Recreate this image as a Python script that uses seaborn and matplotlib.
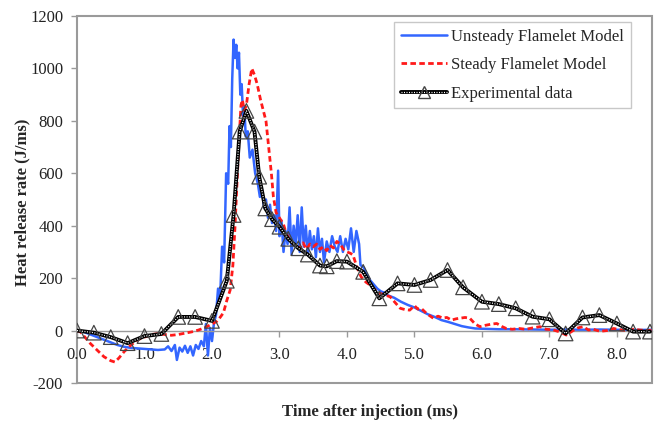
import numpy as np
import pandas as pd
import seaborn as sns
import matplotlib
matplotlib.use("Agg")
import matplotlib.pyplot as plt
from matplotlib.lines import Line2D

# Unsteady flamelet model (blue)
unsteady_t = [0.00, 0.10, 0.20, 0.30, 0.40, 0.50, 0.60, 0.70, 0.80, 0.90,
              1.00, 1.10, 1.20, 1.30, 1.35, 1.40, 1.45, 1.48, 1.52, 1.56,
              1.60, 1.64, 1.68, 1.72, 1.76, 1.80, 1.84, 1.88, 1.91, 1.94,
              1.97, 2.00, 2.03, 2.06, 2.09, 2.12, 2.15, 2.18, 2.21, 2.24,
              2.26, 2.28, 2.30, 2.32, 2.34, 2.36, 2.38, 2.40, 2.42, 2.44,
              2.46, 2.48, 2.50, 2.53, 2.56, 2.60, 2.64, 2.68, 2.71, 2.74,
              2.77, 2.80, 2.83, 2.86, 2.89, 2.92, 2.95, 2.98, 3.00, 3.03,
              3.06, 3.09, 3.12, 3.15, 3.18, 3.21, 3.24, 3.27, 3.30, 3.33,
              3.36, 3.39, 3.42, 3.45, 3.48, 3.51, 3.54, 3.57, 3.60, 3.63,
              3.66, 3.70, 3.74, 3.78, 3.82, 3.86, 3.90, 3.94, 3.98, 4.02,
              4.06, 4.10, 4.14, 4.18, 4.20, 4.25, 4.30, 4.35, 4.40, 4.45,
              4.50, 4.55, 4.60, 4.70, 4.80, 4.90, 5.00, 5.10, 5.20, 5.30,
              5.40, 5.50, 5.60, 5.70, 5.80, 5.90, 6.00, 6.25, 6.50, 6.75,
              7.00, 7.25, 7.50, 7.75, 8.00, 8.25, 8.50, 8.60]
unsteady_q = [0, -5, -15, -25, -35, -45, -55, -62, -66, -68,
              -70, -72, -74, -72, -60, -78, -55, -112, -65, -80,
              -58, -85, -60, -95, -55, -70, -40, -60, 25, -95,
              10, -40, 30, 60, 160, 120, 320, 260, 600, 560,
              780, 700, 960, 1110, 1040, 1090, 1000, 1060, 900, 940,
              820, 850, 740, 760, 660, 690, 600, 560, 510, 540,
              470, 500, 430, 480, 410, 440, 380, 610, 360, 420,
              300, 380, 330, 470, 290, 400, 330, 440, 300, 470,
              320, 400, 290, 380, 310, 360, 280, 390, 300, 350,
              260, 340, 300, 360, 320, 300, 360, 300, 350, 310,
              390, 300, 380, 330, 250, 240, 210, 190, 175, 160,
              150, 145, 135, 125, 110, 98, 88, 75, 62, 52,
              40, 33, 25, 17, 12, 8, 7, 5, 5, 4,
              3, 4, 3, 4, 3, 2, 3, 2]

# Steady flamelet model (red)
steady_t = [0.00, 0.05, 0.10, 0.15, 0.20, 0.30, 0.40, 0.50, 0.56, 0.62,
            0.70, 0.80, 0.90, 1.00, 1.10, 1.20, 1.30, 1.40, 1.50, 1.60,
            1.70, 1.80, 1.90, 2.00, 2.07, 2.12, 2.17, 2.22, 2.27, 2.31,
            2.34, 2.37, 2.40, 2.43, 2.45, 2.48, 2.51, 2.55, 2.59, 2.63,
            2.67, 2.72, 2.76, 2.80, 2.84, 2.88, 2.91, 2.95, 3.00, 3.06,
            3.10, 3.16, 3.22, 3.30, 3.35, 3.40, 3.45, 3.50, 3.55, 3.60,
            3.65, 3.70, 3.75, 3.80, 3.85, 3.90, 3.95, 4.00, 4.05, 4.09,
            4.15, 4.21, 4.28, 4.34, 4.42, 4.49, 4.57, 4.64, 4.72, 4.79,
            4.86, 4.93, 5.00, 5.05, 5.10, 5.18, 5.28, 5.35, 5.42, 5.48,
            5.55, 5.62, 5.67, 5.75, 5.82, 5.90, 5.97, 6.05, 6.15, 6.22,
            6.30, 6.36, 6.45, 6.55, 6.65, 6.75, 6.86, 6.95, 7.05, 7.15,
            7.25, 7.35, 7.42, 7.50, 7.58, 7.65, 7.75, 7.85, 7.95, 8.05,
            8.15, 8.25, 8.35, 8.45, 8.55]
steady_q = [0, -5, -20, -35, -50, -75, -100, -115, -120, -105,
            -80, -55, -35, -25, -15, -12, -15, -18, -15, -10,
            -5, 2, 12, 25, 35, 50, 68, 115, 155, 250,
            390, 560, 720, 860, 880, 840, 860, 940, 1000, 975,
            940, 880, 840, 800, 700, 600, 510, 450, 430, 405,
            370, 345, 325, 315, 335, 310, 330, 320, 330, 310,
            320, 305, 325, 315, 340, 330, 310, 300, 295, 288,
            240, 205, 185, 174, 155, 142, 135, 129, 105, 85,
            80, 78, 95, 82, 85, 65, 47, 55, 48, 50,
            40, 45, 47, 50, 47, 25, 15, 20, 25, 27,
            15, 8, 5, 8, 5, 10, 15, 5, 3, -5,
            -17, 0, 10, 15, 2, 5, -3, 0, 8, 3,
            0, 5, 2, 0, 2]

# Experimental data (black with triangles)
exp_t = [0.00, 0.25, 0.50, 0.75, 1.00, 1.25, 1.50, 1.75, 2.00, 2.22,
         2.32, 2.41, 2.51, 2.63, 2.70, 2.79, 2.89, 3.00, 3.13, 3.28,
         3.42, 3.60, 3.70, 3.85, 4.00, 4.24, 4.48, 4.75, 5.00, 5.24,
         5.49, 5.72, 6.00, 6.25, 6.50, 6.75, 7.00, 7.24, 7.49, 7.74,
         8.00, 8.24, 8.49]
exp_q = [0, -8, -25, -48, -21, -13, 52, 52, 37, 190,
         441, 759, 838, 759, 587, 466, 425, 396, 350, 314,
         290, 248, 245, 265, 263, 224, 123, 180, 174, 193,
         231, 165, 110, 101, 85, 53, 43, -11, 50, 59,
         27, -4, -4]

xticks = [0, 1, 2, 3, 4, 5, 6, 7, 8]
xtick_labels = ["0.0", "1.0", "2.0", "3.0", "4.0", "5.0", "6.0", "7.0", "8.0"]
yticks = [-200, 0, 200, 400, 600, 800, 1000, 1200]

BLUE = "#3366ff"
RED = "#ff1a1a"
FRAME = "#9a9a9a"

sns.set_theme(style="white")
plt.rcParams["font.family"] = ["Liberation Serif", "DejaVu Serif"]
plt.rcParams["axes.unicode_minus"] = False

unsteady = pd.DataFrame({"t": unsteady_t, "q": unsteady_q})
steady = pd.DataFrame({"t": steady_t, "q": steady_q})
exp = pd.DataFrame({"t": exp_t, "q": exp_q})

fig = plt.figure(figsize=(6.65, 4.24), dpi=100)
ax = fig.add_axes([77 / 665, 1 - 383 / 424, 575 / 665, 367 / 424])

sns.lineplot(data=unsteady, x="t", y="q", ax=ax, sort=False, estimator=None,
             color=BLUE, linewidth=1.8, zorder=2)
sns.lineplot(data=steady, x="t", y="q", ax=ax, sort=False, estimator=None,
             color=RED, linewidth=2.0, linestyle=(0, (2.0, 1.2)), zorder=3)
# chain-like black line: thick black under a thin white dotted line
sns.lineplot(data=exp, x="t", y="q", ax=ax, sort=False, estimator=None,
             color="black", linewidth=2.8, zorder=4)
sns.lineplot(data=exp, x="t", y="q", ax=ax, sort=False, estimator=None,
             color="white", linewidth=0.9, linestyle=(0, (0.8, 1.2)), zorder=5)
sns.scatterplot(data=exp, x="t", y="q", ax=ax, marker="^", s=110,
                facecolor="none", edgecolor="#444444", linewidth=0.9, zorder=6)

ax.set_xlim(0, 8.52)
ax.set_ylim(-200, 1200)
ax.set_xlabel("")
ax.set_ylabel("")

# Excel-style axis: x axis crosses at y = 0, frame drawn by the axes patch
for side in ["top", "right", "left"]:
    ax.spines[side].set_visible(False)
ax.spines["bottom"].set_position(("data", 0))
ax.spines["bottom"].set_color(FRAME)
ax.spines["bottom"].set_linewidth(1.0)
ax.patch.set_edgecolor(FRAME)
ax.patch.set_linewidth(1.5)

ax.set_xticks(xticks)
ax.set_xticklabels(xtick_labels)
ax.set_yticks(yticks)
ax.tick_params(axis="x", direction="out", length=4, width=1, color=FRAME,
               pad=8, labelsize=12, labelcolor="#222222", bottom=True)
ax.tick_params(axis="y", direction="out", length=4, width=1, color=FRAME,
               pad=6, labelsize=12, labelcolor="#222222", left=True)

fig.text(22 / 665, 1 - 202 / 424, "Heat release rate (J/ms)", rotation=90,
         ha="center", va="center", fontsize=12, fontweight="bold")
fig.text(370 / 665, 1 - 412 / 424, "Time after injection (ms)",
         ha="center", va="center", fontsize=12, fontweight="bold")

h_uns = Line2D([], [], color=BLUE, linewidth=1.8)
h_st = Line2D([], [], color=RED, linewidth=2.0, linestyle=(0, (2.0, 1.2)))
h_exp = (Line2D([], [], color="black", linewidth=2.8),
         Line2D([], [], color="white", linewidth=0.9, linestyle=(0, (0.8, 1.2))),
         Line2D([], [], linestyle="none", marker="^", markersize=9,
                markerfacecolor="none", markeredgecolor="#444444"))
leg = ax.legend([h_uns, h_st, h_exp],
                ["Unsteady Flamelet Model", "Steady Flamelet Model",
                 "Experimental data"],
                loc="upper right", bbox_to_anchor=(631 / 665, 1 - 22 / 424),
                bbox_transform=fig.transFigure, borderaxespad=0,
                fontsize=12, handlelength=2.8, handletextpad=0.25,
                labelspacing=0.75, borderpad=0.4, fancybox=False,
                frameon=True, framealpha=1)
leg.get_frame().set_edgecolor("#c8c8c8")
leg.get_frame().set_linewidth(1.0)

fig.savefig("out.png", dpi=100)
